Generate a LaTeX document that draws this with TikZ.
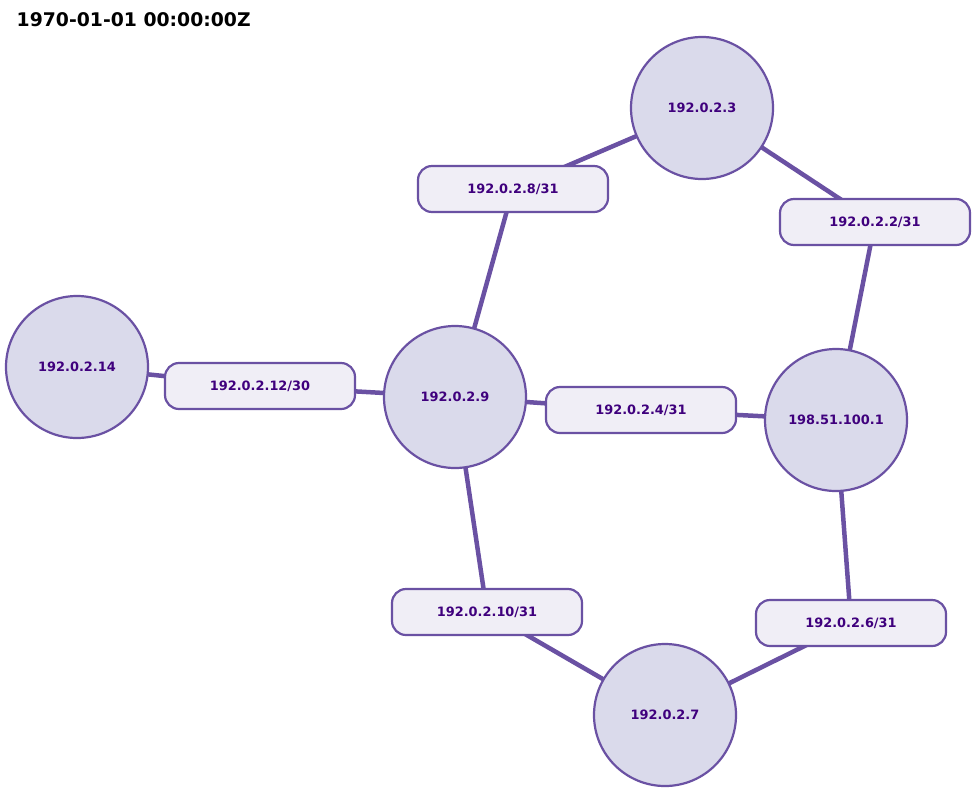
\documentclass[tikz,border=0pt]{standalone}
\usepackage{fontspec}
\setmainfont{DejaVu Sans}
\usetikzlibrary{backgrounds}
\definecolor{edgecol}{HTML}{6A51A3}
\definecolor{circfill}{HTML}{DADAEB}
\definecolor{rectfill}{HTML}{F0EEF6}
\definecolor{txtcol}{HTML}{3F007D}
\tikzset{
  hostnode/.style={circle, draw=edgecol, fill=circfill, line width=2.2pt, minimum size=142pt, inner sep=0pt,
    text=txtcol, font=\bfseries\fontsize{12.9pt}{15pt}\selectfont},
  netnode/.style={rectangle, rounded corners=14pt, draw=edgecol, fill=rectfill, line width=2.2pt,
    minimum width=190pt, minimum height=46pt, inner sep=0pt,
    text=txtcol, font=\bfseries\fontsize{12.9pt}{15pt}\selectfont},
  link/.style={draw=edgecol, line width=4.5pt},
}
\begin{document}
\begin{tikzpicture}[x=1pt, y=-1pt]
\useasboundingbox (0,0) rectangle (976,793);
\node[anchor=base west, inner sep=0pt, font=\bfseries\fontsize{18.8pt}{22pt}\selectfont] (title) at (16.5,26) {1970-01-01 00:00:00Z};

\node[hostnode] (h3) at (702,108) {192.0.2.3};
\node[hostnode] (h14) at (77,367) {192.0.2.14};
\node[hostnode] (h9) at (455,397) {192.0.2.9};
\node[hostnode] (h1) at (836,420) {198.51.100.1};
\node[hostnode] (h7) at (665,715) {192.0.2.7};

\node[netnode] (n8) at (513,189) {192.0.2.8/31};
\node[netnode] (n2) at (875,222) {192.0.2.2/31};
\node[netnode] (n12) at (260,386) {192.0.2.12/30};
\node[netnode] (n4) at (641,410) {192.0.2.4/31};
\node[netnode] (n10) at (487,612) {192.0.2.10/31};
\node[netnode] (n6) at (851,623) {192.0.2.6/31};

\begin{scope}[on background layer]
\draw[link] (h3.center) -- (n8.center);
\draw[link] (h3.center) -- (n2.center);
\draw[link] (h9.center) -- (n8.center);
\draw[link] (h14.center) -- (n12.center);
\draw[link] (h9.center) -- (n12.center);
\draw[link] (h9.center) -- (n4.center);
\draw[link] (h1.center) -- (n4.center);
\draw[link] (h1.center) -- (n2.center);
\draw[link] (h9.center) -- (n10.center);
\draw[link] (h7.center) -- (n10.center);
\draw[link] (h7.center) -- (n6.center);
\draw[link] (h1.center) -- (n6.center);
\end{scope}
\end{tikzpicture}
\end{document}
